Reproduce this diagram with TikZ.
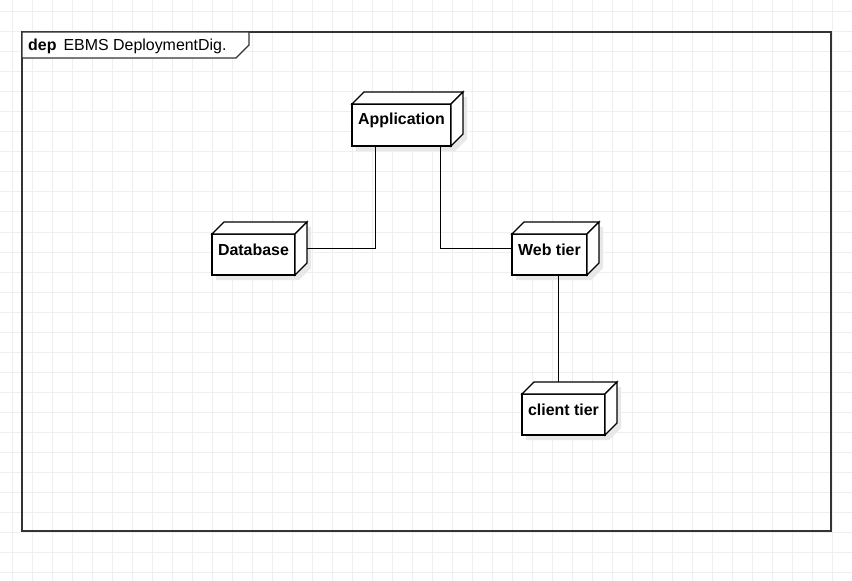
\documentclass[tikz,border=0pt]{standalone}
\usepackage{fontspec}
\setmainfont{Liberation Sans}
\usetikzlibrary{calc}

\definecolor{gridline}{HTML}{EFEFEF}
\definecolor{framecol}{HTML}{333333}
\definecolor{shade}{HTML}{E8E8E8}

\tikzset{
  gridlines/.style={draw=gridline, line width=1bp},
  framebox/.style={draw=framecol, line width=1.3bp},
  cubeline/.style={draw=black, line width=1.3bp, line join=miter},
  cubeshadow/.style={fill=shade},
  cubetext/.style={font=\bfseries\fontsize{16}{18}\selectfont, inner sep=0pt},
  cubebox/.style={inner sep=0pt, draw=none},
  conn/.style={draw=black, line width=1bp},
}

% deployment node drawn as a cuboid
% #1 name, #2 x, #3 y, #4 width, #5 height, #6 label ; depth 12
\newcommand\depnode[6]{%
  \fill[cubeshadow]
    ($(#2,#3+12)+(4,5)$) -- ($(#2+12,#3)+(4,5)$) -- ($(#2+#4,#3)+(4,5)$)
    -- ($(#2+#4,#3+#5-12)+(4,5)$) -- ($(#2+#4-12,#3+#5)+(4,5)$) -- ($(#2,#3+#5)+(4,5)$) -- cycle;
  \filldraw[cubeline, fill=white] (#2,#3+12) rectangle (#2+#4-12,#3+#5);
  \filldraw[cubeline, fill=white] (#2,#3+12) -- (#2+12,#3) -- (#2+#4,#3) -- (#2+#4-12,#3+12) -- cycle;
  \filldraw[cubeline, fill=white] (#2+#4-12,#3+12) -- (#2+#4,#3) -- (#2+#4,#3+#5-12) -- (#2+#4-12,#3+#5) -- cycle;
  \node[cubebox, minimum width=#4 bp, minimum height=#5 bp] (#1) at (#2+#4/2,#3+#5/2) {};
  \node[cubetext] (#1-label) at (#2+#4/2-6,#3+#5/2+1.5) {#6};
}

\begin{document}
\begin{tikzpicture}[x=1bp, y=-1bp]
  \useasboundingbox (0,0) rectangle (852,581);
  \fill[white] (0,0) rectangle (852,581);

  % background grid
  \foreach \g in {0,...,41} {
    \draw[gridlines] (12+20*\g,0) -- (12+20*\g,581);
  }
  \foreach \g in {0,...,28} {
    \draw[gridlines] (0,12+20*\g) -- (852,12+20*\g);
  }

  % diagram frame with its name tab
  \draw[framebox] (22,32) rectangle (831,531);
  \draw[framebox, fill=white] (22,32) -- (249,32) -- (249,45) -- (236,58) -- (22,58) -- cycle;
  \node[anchor=base west, inner sep=0pt, font=\fontsize{16}{19}\selectfont] (frametitle) at (28,50.5)
    {\textbf{dep}\hspace{7bp}EBMS DeploymentDig.};

  % nodes
  \depnode{app}{352}{92}{111}{54}{Application}
  \depnode{db}{212}{222}{95}{53}{Database}
  \depnode{web}{512}{222}{87}{53}{Web tier}
  \depnode{client}{522}{382}{95}{53}{client tier}

  % connectors
  \coordinate (lane) at (558,0);
  \draw[conn] ($(app.south)+(-32.5,0)$) |- (db.east);
  \draw[conn] ($(app.south)+(32.5,0)$) |- (web.west);
  \draw[conn] (web.south -| lane) -- (client.north -| lane);
\end{tikzpicture}
\end{document}
